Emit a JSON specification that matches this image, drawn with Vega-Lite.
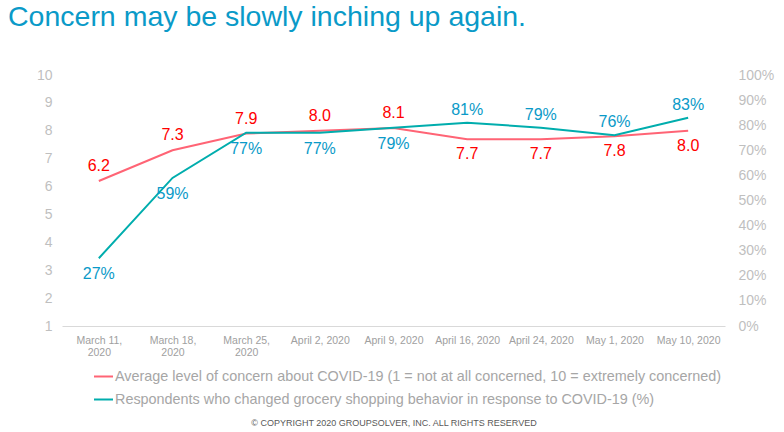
{
  "$schema": "https://vega.github.io/schema/vega-lite/v6.json",
  "width": 663,
  "height": 251,
  "autosize": {"type": "none"},
  "padding": {"left": 62, "top": 75, "right": 59, "bottom": 106},
  "background": "white",
  "config": {
    "font": "Liberation Sans",
    "view": {"stroke": null},
    "legend": {
      "orient": "none",
      "legendX": 31,
      "legendY": 291,
      "direction": "vertical",
      "title": null,
      "padding": 0,
      "symbolType": "stroke",
      "symbolSize": 361,
      "symbolStrokeWidth": 2,
      "labelFont": "Liberation Sans",
      "labelFontSize": 14.4,
      "labelColor": "#a6a6a6",
      "labelOffset": 1,
      "labelLimit": 800,
      "rowPadding": 6
    }
  },
  "title": {
    "text": "Concern may be slowly inching up again.",
    "anchor": "start",
    "frame": "group",
    "dx": -54,
    "offset": 37,
    "fontSize": 28.5,
    "fontWeight": "normal",
    "color": "#0a9ac8",
    "font": "Liberation Sans"
  },
  "data": {
    "values": [
      {"date": "March 11, 2020", "concern": 6.2, "changed": 0.27},
      {"date": "March 18, 2020", "concern": 7.3, "changed": 0.59},
      {"date": "March 25, 2020", "concern": 7.9, "changed": 0.77},
      {"date": "April 2, 2020", "concern": 8.0, "changed": 0.77},
      {"date": "April 9, 2020", "concern": 8.1, "changed": 0.79},
      {"date": "April 16, 2020", "concern": 7.7, "changed": 0.81},
      {"date": "April 24, 2020", "concern": 7.7, "changed": 0.79},
      {"date": "May 1, 2020", "concern": 7.8, "changed": 0.76},
      {"date": "May 10, 2020", "concern": 8.0, "changed": 0.83}
    ]
  },
  "encoding": {
    "x": {
      "field": "date",
      "type": "ordinal",
      "sort": null,
      "axis": {
        "title": "© COPYRIGHT 2020 GROUPSOLVER, INC. ALL RIGHTS RESERVED",
        "titleFontSize": 9,
        "titleFontWeight": "normal",
        "titleColor": "#595959",
        "titleY": 96,
        "titleBaseline": "middle",
        "labelAngle": 0,
        "labelFontSize": 10.5,
        "labelColor": "#a0a0a0",
        "labelPadding": 9,
        "labelLineHeight": 12,
        "labelExpr": "indexof(datum.label, 'March') == 0 ? [replace(datum.label, ', 2020', ','), '2020'] : datum.label",
        "ticks": false,
        "domainColor": "#d9d9d9",
        "domainWidth": 1,
        "grid": false
      }
    }
  },
  "layer": [
    {
      "encoding": {
        "y": {
          "field": "concern",
          "type": "quantitative",
          "scale": {"domain": [1, 10], "nice": false, "zero": false},
          "axis": {
            "orient": "left",
            "title": null,
            "values": [1, 2, 3, 4, 5, 6, 7, 8, 9, 10],
            "domain": false,
            "ticks": false,
            "grid": false,
            "labelFontSize": 14,
            "labelColor": "#bfbfbf",
            "labelPadding": 10
          }
        }
      },
      "layer": [
        {
          "mark": {"type": "line", "strokeWidth": 2},
          "encoding": {
            "color": {
              "datum": "Average level of concern about COVID-19 (1 = not at all concerned, 10 = extremely concerned)",
              "type": "nominal",
              "scale": {
                "domain": [
                  "Average level of concern about COVID-19 (1 = not at all concerned, 10 = extremely concerned)",
                  "Respondents who changed grocery shopping behavior in response to COVID-19 (%)"
                ],
                "range": ["#ff6475", "#00adad"]
              }
            }
          }
        },
        {
          "transform": [{"filter": {"field": "date", "oneOf": ["March 11, 2020", "March 18, 2020", "March 25, 2020", "April 2, 2020", "April 9, 2020"]}}],
          "mark": {"type": "text", "fontSize": 16, "color": "#ff0000", "baseline": "middle", "dy": -15},
          "encoding": {"text": {"field": "concern", "type": "quantitative", "format": ".1f"}}
        },
        {
          "transform": [{"filter": {"field": "date", "oneOf": ["April 16, 2020", "April 24, 2020", "May 1, 2020", "May 10, 2020"]}}],
          "mark": {"type": "text", "fontSize": 16, "color": "#ff0000", "baseline": "middle", "dy": 15},
          "encoding": {"text": {"field": "concern", "type": "quantitative", "format": ".1f"}}
        }
      ]
    },
    {
      "encoding": {
        "y": {
          "field": "changed",
          "type": "quantitative",
          "scale": {"domain": [0, 1], "nice": false},
          "axis": {
            "orient": "right",
            "title": null,
            "values": [0, 0.1, 0.2, 0.3, 0.4, 0.5, 0.6, 0.7, 0.8, 0.9, 1],
            "format": ".0%",
            "domain": false,
            "ticks": false,
            "grid": false,
            "labelFontSize": 14,
            "labelColor": "#bfbfbf",
            "labelPadding": 13
          }
        }
      },
      "layer": [
        {
          "mark": {"type": "line", "strokeWidth": 2},
          "encoding": {
            "color": {
              "datum": "Respondents who changed grocery shopping behavior in response to COVID-19 (%)",
              "type": "nominal"
            }
          }
        },
        {
          "transform": [{"filter": {"field": "date", "oneOf": ["March 11, 2020", "March 18, 2020", "March 25, 2020", "April 2, 2020", "April 9, 2020"]}}],
          "mark": {"type": "text", "fontSize": 16, "color": "#0a9ac8", "baseline": "middle", "dy": 16},
          "encoding": {"text": {"field": "changed", "type": "quantitative", "format": ".0%"}}
        },
        {
          "transform": [{"filter": {"field": "date", "oneOf": ["April 16, 2020", "April 24, 2020", "May 1, 2020", "May 10, 2020"]}}],
          "mark": {"type": "text", "fontSize": 16, "color": "#0a9ac8", "baseline": "middle", "dy": -13},
          "encoding": {"text": {"field": "changed", "type": "quantitative", "format": ".0%"}}
        }
      ]
    }
  ],
  "resolve": {"scale": {"y": "independent"}, "axis": {"y": "independent"}}
}
